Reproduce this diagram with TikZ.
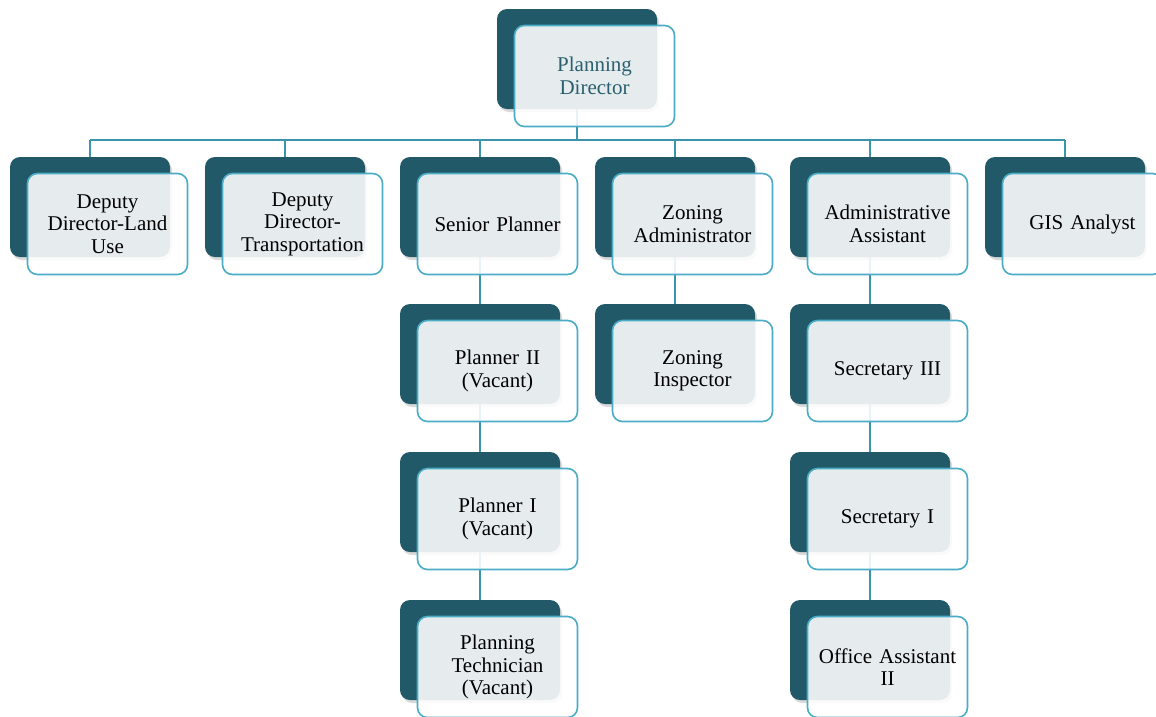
\documentclass[tikz,border=0pt]{standalone}
\usepackage{fontspec}
\setmainfont{Liberation Serif}
\usetikzlibrary{shadows,backgrounds}
\definecolor{darkteal}{HTML}{215968}
\definecolor{edgeblue}{HTML}{4BACC6}
\definecolor{linecol}{HTML}{3C93AC}
\definecolor{toptext}{HTML}{2A5F6E}
\begin{document}
\begin{tikzpicture}[x=1pt,y=-1pt,
  back/.style={draw=none, fill=darkteal, rounded corners=10pt, minimum width=160pt, minimum height=100pt, inner sep=0pt,
    drop shadow={opacity=0.3, shadow xshift=2pt, shadow yshift=-3pt}},
  front/.style={draw=edgeblue, line width=1.6pt, fill=white, fill opacity=0.89, text opacity=1, rounded corners=10pt,
    minimum width=160pt, minimum height=101pt, inner sep=0pt, text width=154pt, align=center,
    font=\fontsize{21}{22.5}\selectfont},
  conn/.style={draw=linecol, line width=1.6pt}]
\useasboundingbox (0,0) rectangle (1156,716);
\newcommand\orgbox[4]{%
  \node[back] (d#1) at (#2,#3) {};
  \node[front] (#1) at (#2+17.5,#3+17) {#4};}
\orgbox{top}{577}{59}{\textcolor{toptext}{Planning\\Director}}
\orgbox{dlu}{90}{207}{Deputy\\Director-Land\\Use}
\orgbox{dtr}{285}{207}{Deputy\\Director-\\Transportation}
\orgbox{sp}{480}{207}{Senior Planner}
\orgbox{za}{675}{207}{Zoning\\Administrator}
\orgbox{aa}{870}{207}{Administrative\\Assistant}
\orgbox{gis}{1065}{207}{GIS Analyst}
\orgbox{p2}{480}{354}{Planner II\\(Vacant)}
\orgbox{zi}{675}{354}{Zoning\\Inspector}
\orgbox{s3}{870}{354}{Secretary III}
\orgbox{p1}{480}{502}{Planner I\\(Vacant)}
\orgbox{s1}{870}{502}{Secretary I}
\orgbox{pt}{480}{650}{Planning\\Technician\\(Vacant)}
\orgbox{oa}{870}{650}{Office Assistant\\II}
\begin{scope}[on background layer]
  \coordinate (bus) at (577,140);
  \draw[conn] (dtop.center) -- (dtop.center |- bus);
  \draw[conn] (ddlu.center |- bus) -- (dgis.center |- bus);
  \foreach \n in {dlu,dtr,sp,za,aa,gis}{
    \draw[conn] (d\n.center |- bus) -- (d\n.center);
  }
  \draw[conn] (dsp.center) -- (dp2.center);
  \draw[conn] (dp2.center) -- (dp1.center);
  \draw[conn] (dp1.center) -- (dpt.center);
  \draw[conn] (dza.center) -- (dzi.center);
  \draw[conn] (daa.center) -- (ds3.center);
  \draw[conn] (ds3.center) -- (ds1.center);
  \draw[conn] (ds1.center) -- (doa.center);
\end{scope}
\end{tikzpicture}
\end{document}
